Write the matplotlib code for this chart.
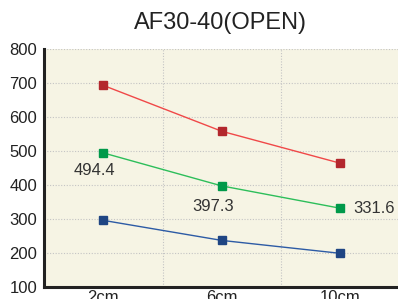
import matplotlib.pyplot as plt

plt.rcParams["font.family"] = ["Liberation Sans", "DejaVu Sans"]

categories = ["2cm", "6cm", "10cm"]
red_values = [693, 558, 464]
green_values = [494.4, 397.3, 331.6]
blue_values = [296, 237, 199]
green_labels = ["494.4", "397.3", "331.6"]

fig = plt.figure(figsize=(3.98, 2.99), dpi=100)
ax = fig.add_axes([44 / 398, 12 / 299, 1 - 44 / 398 + 0.004, 238 / 299])
ax.set_facecolor("#F6F4E4")

x = [i + 0.5 for i in range(len(categories))]
series = [
    (red_values, "#F04848", "#B3272D"),
    (green_values, "#2DBE5A", "#00994A"),
    (blue_values, "#2D5BA5", "#1F4583"),
]
for values, line_color, marker_color in series:
    ax.plot(x, values, color=line_color, lw=1.0, marker="s", ms=6,
            mfc=marker_color, mec=marker_color, zorder=3)

# label offsets in points (dx, dy, ha)
offsets = [(-6.5, -12.5, "center"), (-6, -14.5, "center"), (9, 0, "left")]
for xi, v, txt, (dx, dy, ha) in zip(x, green_values, green_labels, offsets):
    ax.annotate(txt, (xi, v), xytext=(dx, dy), textcoords="offset points",
                ha=ha, va="center", fontsize=12, color="#333333")

ax.set_xlim(0, 3)
ax.set_ylim(100, 800)
ax.set_xticks(x)
ax.set_xticklabels(categories)
ax.set_xticks([1, 2], minor=True)
ax.set_yticks(range(100, 801, 100))
ax.grid(True, axis="y", color="#C4C4C4", ls=(0, (1, 1.5)), lw=0.8)
ax.grid(True, axis="x", which="minor", color="#C4C4C4", ls=(0, (1, 1.5)), lw=0.8)
ax.tick_params(axis="both", which="both", length=0, labelsize=12, colors="#222222")
ax.tick_params(axis="y", pad=5)
ax.tick_params(axis="x", pad=2)

for side in ["top", "right"]:
    ax.spines[side].set_visible(False)
for side in ["left", "bottom"]:
    ax.spines[side].set_linewidth(2.2)
    ax.spines[side].set_color("#222222")

fig.text(0.553, 0.922, "AF30-40(OPEN)", ha="center", va="center",
         fontsize=17, color="#222222")

fig.savefig("out.png", dpi=100)
